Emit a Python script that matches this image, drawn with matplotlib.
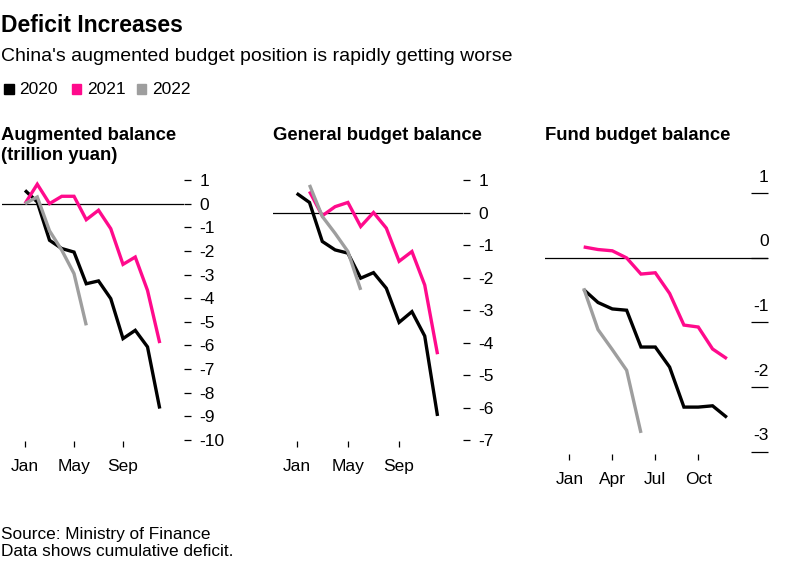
import numpy as np
import matplotlib.pyplot as plt
import matplotlib.transforms as mtransforms
from matplotlib.patches import Rectangle

plt.rcParams["font.family"] = ["Liberation Sans", "DejaVu Sans"]
plt.rcParams["axes.unicode_minus"] = False

# ------------------------------------------------------------
# Data (trillion yuan, cumulative)
# ------------------------------------------------------------
nan = np.nan
months = np.arange(12)  # Jan .. Dec
years = ["2020", "2021", "2022"]
colors = ["#000000", "#ff0a8c", "#9e9e9e"]

aug_2020 = [0.56, 0.07, -1.55, -1.90, -2.05, -3.39, -3.27, -4.02, -5.71, -5.36, -6.06, -8.67]
aug_2021 = [0.00, 0.82, 0.00, 0.31, 0.31, -0.68, -0.28, -1.06, -2.57, -2.26, -3.67, -5.90]
aug_2022 = [0.00, 0.28, -1.15, -1.97, -2.96, -5.15, nan, nan, nan, nan, nan, nan]

gen_2020 = [0.59, 0.31, -0.89, -1.15, -1.25, -2.02, -1.85, -2.33, -3.38, -3.05, -3.80, -6.26]
gen_2021 = [nan, 0.65, -0.10, 0.18, 0.31, -0.43, 0.00, -0.48, -1.50, -1.20, -2.23, -4.36]
gen_2022 = [nan, 0.85, -0.12, -0.64, -1.20, -2.38, nan, nan, nan, nan, nan, nan]

fund_2020 = [nan, -0.49, -0.69, -0.79, -0.81, -1.38, -1.38, -1.69, -2.31, -2.31, -2.29, -2.47]
fund_2021 = [nan, 0.17, 0.13, 0.11, 0.00, -0.25, -0.23, -0.55, -1.04, -1.07, -1.41, -1.56]
fund_2022 = [nan, -0.47, -1.11, -1.42, -1.74, -2.71, nan, nan, nan, nan, nan, nan]

aug_yticks = list(range(1, -11, -1))
gen_yticks = list(range(1, -8, -1))
fund_yticks = [1, 0, -1, -2, -3]

W, H = 808, 563
fig = plt.figure(figsize=(W / 100, H / 100), dpi=100)


def px_axes(left, right, top, bottom):
    return fig.add_axes([left / W, 1 - bottom / H, (right - left) / W, (bottom - top) / H])


def px_text(x, y, s, **kw):
    fig.text(x / W, 1 - y / H, s, **kw)


def draw_lines(ax, series):
    for vals, c in zip(series, colors):
        ax.plot(months, vals, color=c, lw=2.4, solid_joinstyle="miter", solid_capstyle="butt")
    ax.axhline(0, color="black", lw=0.9, zorder=0)
    for s in ax.spines.values():
        s.set_visible(False)
    ax.tick_params(axis="x", length=4.5, width=0.9, pad=8.5, labelsize=12.5, color="black")


# ------------------------------------------------------------
# Panel 1: augmented balance
# ------------------------------------------------------------
ax1 = px_axes(2, 184, 171.7, 441.2)
draw_lines(ax1, [aug_2020, aug_2021, aug_2022])
ax1.set_xlim(-1.88, 12.98)
ax1.set_ylim(-10.05, 1.35)
ax1.set_xticks([0, 4, 8], ["Jan", "May", "Sep"])
ax1.set_yticks(aug_yticks, [str(v) for v in aug_yticks])
ax1.yaxis.tick_right()
ax1.tick_params(axis="y", length=5.3, width=0.9, pad=6, labelsize=12.5)

# ------------------------------------------------------------
# Panel 2: general budget balance
# ------------------------------------------------------------
ax2 = px_axes(273, 463, 171.9, 441)
draw_lines(ax2, [gen_2020, gen_2021, gen_2022])
ax2.set_xlim(-1.85, 12.99)
ax2.set_ylim(-7.03, 1.25)
ax2.set_xticks([0, 4, 8], ["Jan", "May", "Sep"])
ax2.set_yticks(gen_yticks, [str(v) for v in gen_yticks])
ax2.yaxis.tick_right()
ax2.tick_params(axis="y", length=5.3, width=0.9, pad=6, labelsize=12.5)

# ------------------------------------------------------------
# Panel 3: fund budget balance (labels sit on top of tick lines)
# ------------------------------------------------------------
ax3 = px_axes(545, 768, 167.5, 453.6)
draw_lines(ax3, [fund_2020, fund_2021, fund_2022])
ax3.set_xlim(-1.70, 13.87)
ax3.set_ylim(-3.03, 1.4)
ax3.set_xticks([0, 3, 6, 9], ["Jan", "Apr", "Jul", "Oct"])
ax3.set_yticks(fund_yticks, [str(v) for v in fund_yticks])
ax3.tick_params(axis="y", left=False, right=True, labelleft=False, labelright=True,
                direction="in", length=12, width=0.9, pad=0.5, labelsize=12.5)
lift = mtransforms.ScaledTranslation(0, 8.3 / 72, fig.dpi_scale_trans)
for t in ax3.yaxis.get_major_ticks():
    t.label2.set_horizontalalignment("right")
    t.label2.set_verticalalignment("baseline")
    t.label2.set_transform(t.label2.get_transform() + lift)

# ------------------------------------------------------------
# Titles, legend, footer
# ------------------------------------------------------------
px_text(1, 32, "Deficit Increases", fontsize=16.5, fontweight="bold")
px_text(1, 61, "China's augmented budget position is rapidly getting worse", fontsize=14)

leg_x = [4, 71.7, 136.7]
for x, yr, c in zip(leg_x, years, colors):
    fig.patches.append(Rectangle((x / W, 1 - 94 / H), 9.5 / W, 10 / H,
                                 transform=fig.transFigure, color=c))
    px_text(x + 15, 94, yr, fontsize=12.5)

px_text(1, 140, "Augmented balance", fontsize=13.3, fontweight="bold")
px_text(1, 160, "(trillion yuan)", fontsize=13.3, fontweight="bold")
px_text(273, 140, "General budget balance", fontsize=13.3, fontweight="bold")
px_text(545, 140, "Fund budget balance", fontsize=13.3, fontweight="bold")

px_text(1, 539.5, "Source: Ministry of Finance", fontsize=12.4)
px_text(1, 555.5, "Data shows cumulative deficit.", fontsize=12.4)

fig.savefig("out.png", dpi=100)
